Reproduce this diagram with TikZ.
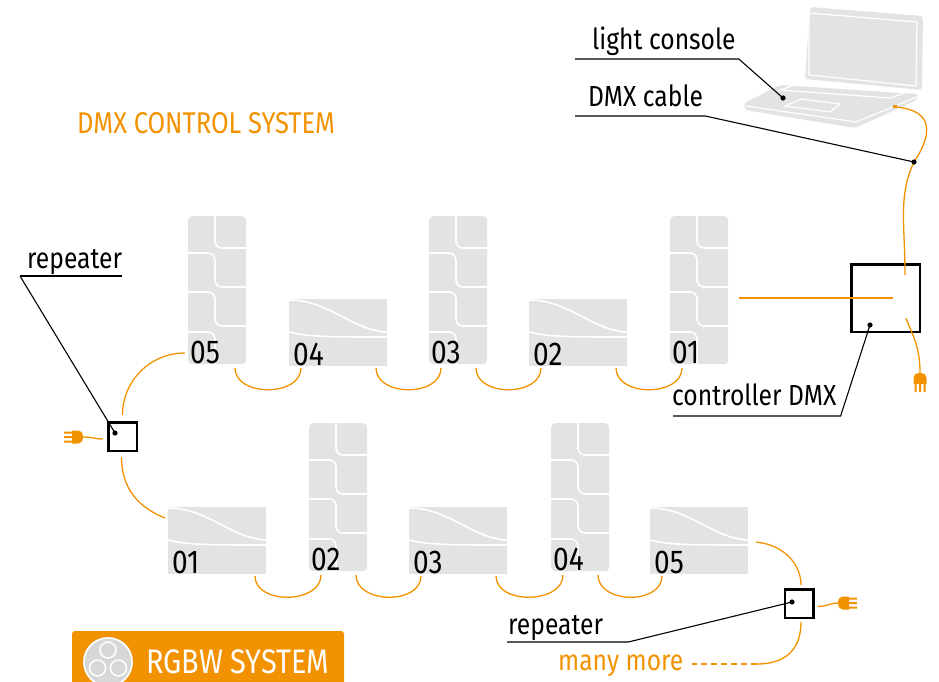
\documentclass[tikz,border=0pt]{standalone}
\usepackage{fontspec}
\setmainfont{Fira Sans}[FakeStretch=0.85]
\usetikzlibrary{calc}

\definecolor{dmxorange}{HTML}{F39200}
\definecolor{fixgray}{HTML}{E2E3E4}
\definecolor{icongray}{HTML}{D6D7D8}

\tikzset{
  cable/.style={dmxorange, line width=1.3pt},
  leader/.style={black, line width=1.1pt},
  unitbox/.style={draw, line width=2.5pt, minimum size=28.5pt, inner sep=0pt},
  annot/.style={font=\fontsize{29}{32}\selectfont, anchor=base west, inner sep=0pt},
  fixnum/.style={font=\fontsize{33}{36}\selectfont, anchor=base west, inner sep=0pt},
  panel/.style={white, line width=1.6pt},
  % upright fixture, 2 x 4 panels
  tallbar/.pic={
    \node[fill=fixgray, rounded corners=4pt, minimum width=58pt, minimum height=148pt,
          inner sep=0pt, anchor=north west] (-box) at (0,0) {};
    \draw[panel, rounded corners=7pt] (27,0) |- (58,32)
      (0,37) -| (27,71) -- (58,71)
      (0,76) -| (27,110) -- (58,110)
      (0,116) -| (27,148);
    \node[fixnum] at (2,147) {#1};
    \coordinate (-in) at (12,152);
    \coordinate (-out) at (47,152);
    \coordinate (-lft) at (-3,137);
  },
  % flat fixture
  widebar/.pic={
    \node[fill=fixgray, minimum width=98pt, minimum height=67pt,
          inner sep=0pt, anchor=north west] (-box) at (0,0) {};
    \draw[panel] (0,1) .. controls (40,1) and (62,31) .. (98,33);
    \draw[panel] (0,33) .. controls (20,38) and (40,38) .. (98,38);
    \node[fixnum] at (4,66) {#1};
    \coordinate (-in) at (12,69);
    \coordinate (-out) at (87,69);
    \coordinate (-lft) at (-3,11);
    \coordinate (-rgt) at (106,35);
  },
  % mains plug, cord end at the origin
  plug/.pic={
    \coordinate (-end) at (0,0);
    \fill[dmxorange] (-11,-6.5) [rounded corners=5pt] -- (0,-6.5) -- (0,6.5) [sharp corners] -- (-11,6.5) -- cycle;
    \fill[dmxorange] (-19,-5.5) rectangle (-11,-3.5) (-19,-1) rectangle (-11,1) (-19,3.5) rectangle (-11,5.5);
  },
}

\begin{document}
\begin{tikzpicture}[x=1pt,y=-1pt]
\useasboundingbox (0,0) rectangle (939,682);

\node[annot, text=dmxorange, font=\fontsize{30}{32}\selectfont] (title) at (77,133) {DMX CONTROL SYSTEM};

% laptop
\fill[fixgray, rounded corners=3pt] (810,7) -- (923,16) -- (922,90) -- (805,79) -- cycle;
\draw[white, line width=1.2pt] (809,13) -- (917,22) -- (916,86) -- (809,75) -- cycle;
\fill[fixgray, rounded corners=3pt] (744,103) -- (780,85) -- (918,94) -- (917,100) -- (855,128) -- (745,110) -- cycle;
\draw[white, line width=1.2pt] (746,106) -- (856,122) -- (917,97);
\draw[white, line width=1.2pt] (780,90) -- (808,81) -- (905,93) -- (890,98) -- cycle;
\draw[white, line width=1.2pt] (785,106) -- (801,99) -- (840,104) -- (830,112) -- cycle;
\fill[dmxorange] (893,105.5) rectangle (897,108.5);

% top row
\pic (t05) at (188,216) {tallbar=05};
\pic (w04) at (289,299) {widebar=04};
\pic (t03) at (429,216) {tallbar=03};
\pic (w02) at (529,299) {widebar=02};
\pic (t01) at (670,216) {tallbar=01};

% bottom row
\pic (w01) at (168,507) {widebar=01};
\pic (t02) at (309,423) {tallbar=02};
\pic (w03) at (409,507) {widebar=03};
\pic (t04) at (551,423) {tallbar=04};
\pic (w05) at (650,507) {widebar=05};

% links between fixtures
\draw[cable] (t05-out) .. controls +(0,29) and +(0,29) .. (w04-in);
\draw[cable] (w04-out) .. controls +(0,29) and +(0,29) .. (t03-in);
\draw[cable] (t03-out) .. controls +(0,29) and +(0,29) .. (w02-in);
\draw[cable] (w02-out) .. controls +(0,29) and +(0,29) .. (t01-in);
\draw[cable] (w01-out) .. controls +(0,29) and +(0,29) .. (t02-in);
\draw[cable] (t02-out) .. controls +(0,29) and +(0,29) .. (w03-in);
\draw[cable] (w03-out) .. controls +(0,29) and +(0,29) .. (t04-in);
\draw[cable] (t04-out) .. controls +(0,29) and +(0,29) .. (w05-in);

% controller
\node[unitbox, minimum width=68.5pt, minimum height=67.5pt] (ctrl) at (885.5,298) {};
\coordinate (port) at (895,107);
\coordinate (cabledot) at (914,162);
\draw[cable] (port) .. controls (935,110) and (932,135) .. (cabledot)
  .. controls (898,195) and (905,225) .. ($(ctrl.center)+(19.5,-23)$);
\draw[cable] ($(t01-box.east |- ctrl.center)+(11,0)$) -- ($(ctrl.center)+(7.5,0)$);
\pic[rotate=90] (plugC) at (920,373) {plug};
\draw[cable] ($(ctrl.center)+(20.5,20)$) .. controls +(6,17) and +(0,-28) .. (plugC-end);

% repeaters
\node[unitbox] (rep1) at (122.5,436.5) {};
\node[unitbox] (rep2) at (799,603.5) {};
\draw[cable] ($(rep1.north)+(0,-6)$) .. controls +(0,-34) and +(-35,0) .. (t05-lft);
\draw[cable] ($(rep1.south)+(-1,5)$) .. controls +(0,33) and +(-25,-10) .. (w01-lft);
\pic (plugA) at (83,437) {plug};
\draw[cable] (plugA-end) .. controls +(9,0) and +(-8,0) .. ($(rep1.west)+(-4,2.5)$);

\draw[cable] (w05-rgt) .. controls +(29,3) and +(0,-20) .. ($(rep2.north)+(2,-3)$);
\coordinate (morejoin) at (757,664);
\coordinate (moreend) at (692,664);
\draw[cable] ($(rep2.south)+(2,3)$) .. controls +(0,28) and +(28,0) .. (morejoin);
\draw[cable, dash pattern=on 6pt off 4pt] (morejoin) -- (moreend);
\pic[rotate=180] (plugB) at (838,603) {plug};
\draw[cable] ($(rep2.east)+(3,3)$) .. controls +(10,0) and +(-8,0) .. (plugB-end);
\node[annot, text=dmxorange] (more) at (558,670) {many more};

% callouts
\coordinate (consoledot) at (783,98);
\coordinate (ctrldot) at (870,325);
\coordinate (rep1dot) at (115,433);
\coordinate (rep2dot) at (792,602);
\foreach \d in {consoledot,cabledot,ctrldot,rep1dot,rep2dot}
  \fill (\d) circle (2.6pt);

\node[annot] (console) at (592,50) {light console};
\draw[leader] ($(console.base west)+(-17,9)$) -- ($(console.base east)+(3,9)$) -- (consoledot);
\node[annot] (dmxcable) at (588,107) {DMX cable};
\draw[leader] ($(dmxcable.base west)+(-13,9)$) -- ($(dmxcable.base east)+(2,9)$) -- (cabledot);
\node[annot] (ctrltag) at (672,405) {controller DMX};
\draw[leader] ($(ctrltag.base west)+(1,11)$) -- ($(ctrltag.base east)+(4,11)$) -- (ctrldot);
\node[annot] (reptagA) at (27,268) {repeater};
\draw[leader] ($(reptagA.base west)+(-7,8)$) -- ($(reptagA.base east)+(0,8)$);
\draw[leader] ($(reptagA.base west)+(-7,8)$) -- (rep1dot);
\node[annot] (reptagB) at (508,634) {repeater};
\draw[leader] ($(reptagB.base west)+(-1,8)$) -- ($(reptagB.base east)+(25,8)$) -- (rep2dot);

% system badge
\fill[dmxorange, rounded corners=3pt] (72,631) rectangle (344,692);
\fill[icongray] (108,662) circle (25pt);
\draw[white, line width=1.5pt] (108,662) circle (24pt);
\foreach \a in {90,210,330}
  \filldraw[fill=icongray, draw=white, line width=1.5pt] ($(108,662)+(\a:12 and -12)$) circle (8pt);
\node[annot, text=white, font=\fontsize{34}{36}\selectfont] (badge) at (146,673) {RGBW SYSTEM};
\end{tikzpicture}
\end{document}
